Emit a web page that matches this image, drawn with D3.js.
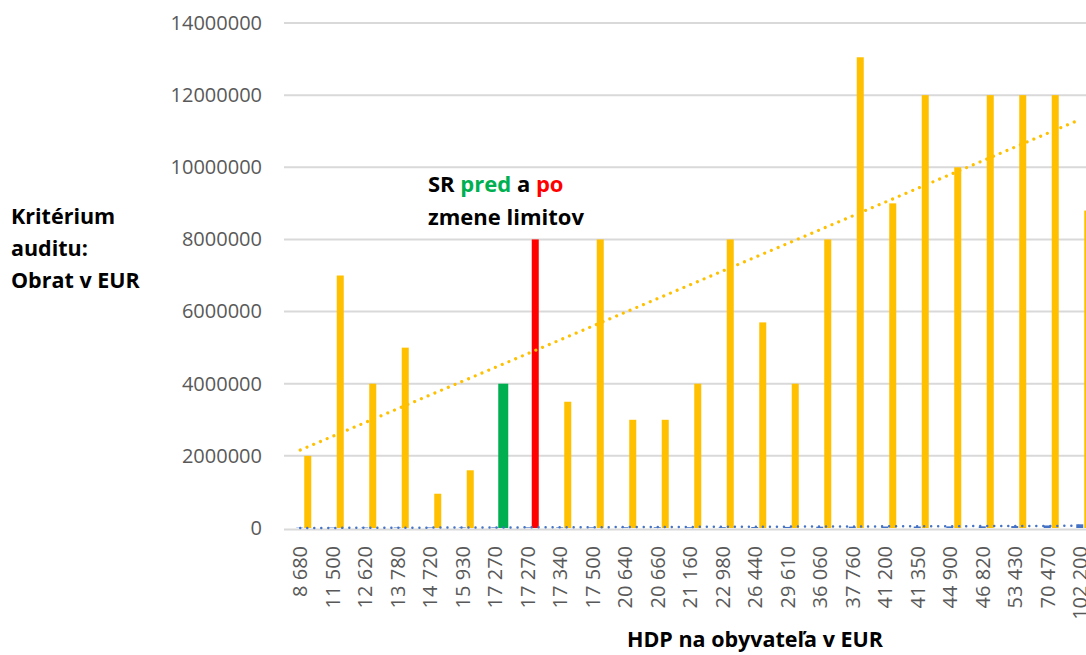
<!DOCTYPE html>
<html><head><meta charset="utf-8">
<script src="https://cdn.jsdelivr.net/npm/d3@7"></script>
<style>
html,body{margin:0;padding:0;background:#fff;overflow:hidden}
svg{display:block}
text{font-family:"Open Sans",sans-serif}
</style></head>
<body>
<svg id="c" width="1086" height="655"></svg>
<script>
// ---- data ----
const categories = ["8 680","11 500","12 620","13 780","14 720","15 930","17 270","17 270","17 340","17 500","20 640","20 660","21 160","22 980","26 440","29 610","36 060","37 760","41 200","41 350","44 900","46 820","53 430","70 470","102 200"];
const hdpValues = [8680,11500,12620,13780,14720,15930,17270,17270,17340,17500,20640,20660,21160,22980,26440,29610,36060,37760,41200,41350,44900,46820,53430,70470,102200];
const obratValues = [2000000,7000000,4000000,5000000,950000,1600000,4000000,8000000,3500000,8000000,3000000,3000000,4000000,8000000,5700000,4000000,8000000,13050000,9000000,12000000,10000000,12000000,12000000,12000000,8800000];
const yTicks = [0,2000000,4000000,6000000,8000000,10000000,12000000,14000000];
const yTitleLines = ["Kritérium","auditu:","Obrat v EUR"];
const xTitle = "HDP na obyvateľa v EUR";
const srBefore = 6, srAfter = 7;

// ---- layout ----
const svg = d3.select("#c");
const x = d3.scaleBand().domain(d3.range(categories.length)).range([284, 284 + 25*32.5]).padding(0);
const y = d3.scaleLinear().domain([0, 14000000]).range([528, 23]);
const YELLOW = "#FFC000", BLUE = "#4472C4", GREEN = "#00B050", RED = "#FF0000";

// gridlines
svg.append("g").selectAll("line").data(yTicks.filter(d=>d>0)).join("line")
  .attr("x1", 284).attr("x2", 1086).attr("y1", d=>y(d)).attr("y2", d=>y(d))
  .attr("stroke", "#d9d9d9").attr("stroke-width", 2);

// y axis labels
const yAxis = d3.axisLeft(y).tickValues(yTicks).tickFormat(d3.format("d")).tickSize(0).tickPadding(0);
const ya = svg.append("g").attr("transform","translate(262,0)").call(yAxis);
ya.select(".domain").remove();
ya.selectAll("text").attr("font-size", 20).attr("fill", "#595959").attr("font-family","Open Sans");

// bars
const cx = i => x(i) + x.bandwidth()/2;
svg.append("g").selectAll("rect").data(hdpValues).join("rect")
  .attr("x", (d,i)=>cx(i)-4).attr("width", 7)
  .attr("y", d=>y(d)).attr("height", d=>y(0)-y(d)).attr("fill", BLUE);
svg.append("g").selectAll("rect").data(obratValues).join("rect")
  .attr("x", (d,i)=> i===srBefore ? cx(i)+3 : cx(i)+4)
  .attr("width", (d,i)=> i===srBefore ? 10 : 7)
  .attr("y", d=>y(d)).attr("height", d=>y(0)-y(d))
  .attr("fill", (d,i)=> i===srBefore ? GREEN : i===srAfter ? RED : YELLOW);

// x axis line
svg.append("line").attr("x1",284).attr("x2",1086).attr("y1",y(0)+1.5).attr("y2",y(0)+1.5)
  .attr("stroke","#d9d9d9").attr("stroke-width",2);

// trendlines (least squares over category index)
function trend(vals){
  const n = vals.length, xs = d3.range(1,n+1);
  const mx = d3.mean(xs), my = d3.mean(vals);
  const b = d3.sum(xs,(v,i)=>(v-mx)*(vals[i]-my)) / d3.sum(xs, v=>(v-mx)*(v-mx));
  const a = my - b*mx;
  return [[0, a+b*1],[n-1, a+b*n]];
}
const line = d3.line().x(d=>cx(d[0])).y(d=>y(d[1]));
svg.append("path").attr("d", line(trend(hdpValues))).attr("fill","none")
  .attr("stroke", BLUE).attr("stroke-width", 2.5).attr("stroke-dasharray","0.01 7").attr("stroke-linecap","round");
svg.append("path").attr("d", line(trend(obratValues))).attr("fill","none")
  .attr("stroke", YELLOW).attr("stroke-width", 3.2).attr("stroke-dasharray","0.01 7.3").attr("stroke-linecap","round");

// x tick labels
const xAxis = d3.axisBottom(x).tickFormat(i=>categories[i]).tickSize(0).tickPadding(0);
const xa = svg.append("g").attr("transform","translate(0,546)").call(xAxis);
xa.select(".domain").remove();
xa.selectAll("text").attr("font-size",20).attr("fill","#595959").attr("font-family","Open Sans")
  .attr("text-anchor","end").attr("dy","0.35em").attr("x",0).attr("y",0)
  .attr("transform","rotate(-90)");

// titles
const yt = svg.append("text").attr("font-size",21.5).attr("font-weight","bold").attr("fill","#000");
yTitleLines.forEach((t,i)=> yt.append("tspan").attr("x",11).attr("y",224+i*32).text(t));
svg.append("text").attr("x",755).attr("y",647).attr("text-anchor","middle")
  .attr("font-size",21.5).attr("font-weight","bold").attr("fill","#000").text(xTitle);

// annotation
const ann = svg.append("text").attr("font-size",22).attr("font-weight","bold").attr("fill","#000");
const l1 = ann.append("tspan").attr("x",428).attr("y",192);
l1.append("tspan").text("SR ");
l1.append("tspan").attr("fill",GREEN).text("pred");
l1.append("tspan").text(" a ");
l1.append("tspan").attr("fill",RED).text("po");
ann.append("tspan").attr("x",428).attr("y",225).text("zmene limitov");
</script>
</body></html>
